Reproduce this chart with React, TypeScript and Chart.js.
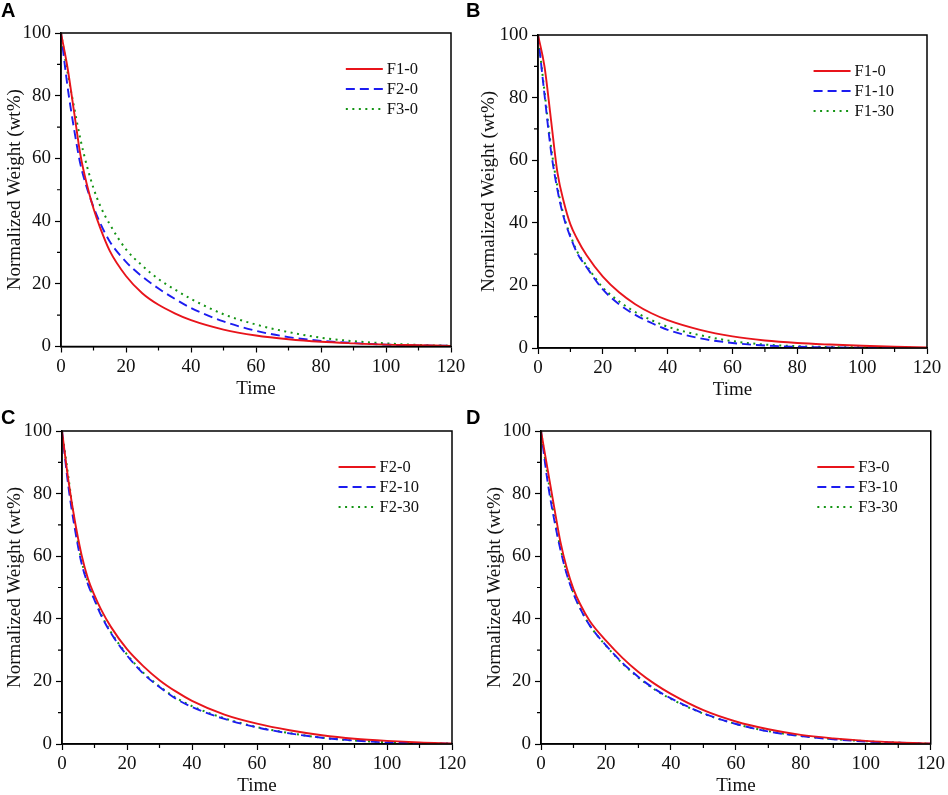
import React, { useEffect, useRef } from "react";
import Chart from "chart.js/auto";

// time values shared by every curve
const timePoints = [0, 2, 4, 6, 8, 10, 12, 15, 20, 25, 30, 35, 40, 50, 60, 70, 80, 90, 100, 110, 120];

const xTickValues = [0, 20, 40, 60, 80, 100, 120];
const yTickValues = [0, 20, 40, 60, 80, 100];

// panel A
const namesA = ["F1-0", "F2-0", "F3-0"];
const a_F1_0 = [100, 89, 75, 61, 51.5, 44, 38, 30.5, 22.5, 17, 13.3, 10.6, 8.4, 5.4, 3.5, 2.3, 1.5, 1.0, 0.6, 0.4, 0.2];
const a_F2_0 = [100, 83, 69.5, 58, 50.5, 44.5, 39.5, 33.5, 27, 22.3, 18.5, 15.2, 12.3, 8.0, 5.0, 3.0, 1.8, 1.1, 0.6, 0.35, 0.2];
const a_F3_0 = [100, 87.5, 76.5, 66, 57.5, 50.5, 45, 39, 31, 25.8, 21.5, 18.2, 15.2, 10.3, 7, 4.6, 2.8, 1.7, 1.0, 0.5, 0.2];

// panel B
const namesB = ["F1-0", "F1-10", "F1-30"];
const b_F1_0 = [100, 90, 73, 56, 46.5, 39.5, 35, 29.6, 22.8, 17.8, 14.0, 11.1, 8.9, 5.8, 3.7, 2.4, 1.6, 1.1, 0.7, 0.4, 0.2];
const b_F1_10 = [100, 81, 63, 50.5, 41.5, 35.5, 30.5, 25.8, 18.7, 14, 10.6, 8, 5.8, 3.1, 1.6, 0.8, 0.4, 0.2, 0.1, 0.05, 0];
const b_F1_30 = [100, 82, 64.5, 51.5, 42, 36, 31, 26.3, 19.3, 14.9, 11.5, 8.9, 6.8, 4.1, 2.2, 1.1, 0.6, 0.3, 0.2, 0.1, 0];

// panel C
const namesC = ["F2-0", "F2-10", "F2-30"];
const c_F2_0 = [100, 84, 71, 60.5, 52.8, 47.5, 43, 37.5, 30.3, 24.9, 20.4, 16.8, 13.8, 9.4, 6.5, 4.4, 2.8, 1.7, 1.0, 0.5, 0.2];
const c_F2_10 = [100, 82, 68.5, 57.8, 51, 46, 41.2, 35.5, 28.3, 22.5, 18.2, 14.5, 11.8, 8.0, 5.3, 3.4, 2.0, 1.1, 0.5, 0.25, 0.1];
const c_F2_30 = [100, 85, 70, 58.6, 51.5, 46.3, 41.5, 35.8, 28.6, 22.8, 18.4, 14.8, 12.1, 8.2, 5.4, 3.5, 2.0, 1.1, 0.6, 0.3, 0.1];

// panel D
const namesD = ["F3-0", "F3-10", "F3-30"];
const d_F3_0 = [100, 88, 76, 64.5, 56, 49.5, 44.8, 39.3, 33, 27.6, 23, 19.2, 16, 10.8, 7.2, 4.7, 2.9, 1.8, 1.0, 0.5, 0.2];
const d_F3_10 = [100, 84, 72, 62, 54, 48, 43.4, 37.9, 31.5, 26, 21.4, 17.6, 14.6, 9.8, 6.4, 4.0, 2.5, 1.5, 0.8, 0.4, 0.1];
const d_F3_30 = [100, 86, 73, 62.6, 54.5, 48.3, 43.5, 37.9, 31.4, 25.8, 21.2, 17.4, 14.4, 9.7, 6.4, 4.1, 2.6, 1.6, 0.9, 0.4, 0.1];

const lineStyles = [
  { color: "#e8141b", dash: [] as number[], width: 1.9 },
  { color: "#1c1cf0", dash: [9, 5], width: 1.9 },
  { color: "#149414", dash: [2, 4.5], width: 2 },
];

const serif = "Liberation Serif";

// box round the plot + short minor ticks halfway between the labelled ones
const framePlugin = {
  id: "frame",
  afterDraw(chart: any) {
    const { ctx, chartArea: a, scales } = chart;
    ctx.save();
    ctx.strokeStyle = "#000";
    ctx.lineWidth = 1.5;
    ctx.strokeRect(a.left, a.top, a.right - a.left, a.bottom - a.top);
    ctx.lineWidth = 1.2;
    ctx.beginPath();
    const xs = scales.x.ticks;
    for (let i = 1; i < xs.length; i++) {
      const px = scales.x.getPixelForValue((xs[i].value + xs[i - 1].value) / 2);
      ctx.moveTo(px, a.bottom);
      ctx.lineTo(px, a.bottom + 4);
    }
    const ys = scales.y.ticks;
    for (let i = 1; i < ys.length; i++) {
      const py = scales.y.getPixelForValue((ys[i].value + ys[i - 1].value) / 2);
      ctx.moveTo(a.left, py);
      ctx.lineTo(a.left - 4, py);
    }
    ctx.stroke();
    ctx.restore();
  },
};

// legend drawn inside the plot, top right
const insideLegend = {
  id: "insideLegend",
  afterDraw(chart: any) {
    const { ctx, chartArea: a } = chart;
    const sets = chart.data.datasets;
    ctx.save();
    ctx.font = `16.5px "${serif}"`;
    const textW = Math.max(...sets.map((d: any) => ctx.measureText(d.label).width));
    const textX = a.right - 33 - textW;
    const lineEnd = textX - 4;
    const lineStart = lineEnd - 37;
    sets.forEach((d: any, i: number) => {
      const yy = a.top + 36 + i * 20;
      ctx.strokeStyle = d.borderColor;
      ctx.lineWidth = d.borderWidth;
      ctx.setLineDash(d.borderDash || []);
      ctx.beginPath();
      ctx.moveTo(lineStart, yy);
      ctx.lineTo(lineEnd, yy);
      ctx.stroke();
      ctx.setLineDash([]);
      ctx.fillStyle = "#111";
      ctx.textBaseline = "middle";
      ctx.fillText(d.label, textX, yy + 1);
    });
    ctx.restore();
  },
};

interface PanelProps {
  letter: string;
  left: number;
  top: number;
  width: number;
  height: number;
  area: { left: number; right: number; top: number; bottom: number };
  padLeft: number;
  letterLeft: number;
  letterTop: number;
  names: string[];
  series: number[][];
}

const X_AXIS_H = 53.5;

const Panel: React.FC<PanelProps> = (p) => {
  const canvasRef = useRef<HTMLCanvasElement>(null);

  useEffect(() => {
    if (!canvasRef.current) return;
    const chart = new Chart(canvasRef.current, {
      type: "line",
      data: {
        datasets: p.names.map((name, i) => ({
          label: name,
          data: timePoints.map((t, j) => ({ x: t, y: p.series[i][j] })),
          borderColor: lineStyles[i].color,
          borderDash: lineStyles[i].dash,
          borderWidth: lineStyles[i].width,
          pointRadius: 0,
          cubicInterpolationMode: "monotone",
          fill: false,
        })),
      },
      options: {
        animation: false,
        responsive: false,
        maintainAspectRatio: false,
        layout: {
          padding: {
            left: p.padLeft,
            right: p.width - p.area.right,
            top: p.area.top,
            bottom: p.height - p.area.bottom - X_AXIS_H,
          },
        },
        plugins: { legend: { display: false }, tooltip: { enabled: false } },
        scales: {
          x: {
            type: "linear",
            min: 0,
            max: 120,
            afterBuildTicks: (scale: any) => {
              scale.ticks = xTickValues.map((value) => ({ value }));
            },
            afterFit: (scale: any) => {
              scale.height = X_AXIS_H;
            },
            grid: { drawOnChartArea: false, drawTicks: true, tickLength: 6, tickColor: "#000", tickWidth: 1.2 },
            border: { display: true, color: "#000", width: 1.5 },
            ticks: { font: { family: serif, size: 19 }, color: "#111", padding: 3, maxRotation: 0 },
            title: { display: true, text: "Time", font: { family: serif, size: 19 }, color: "#111", padding: 0 },
          },
          y: {
            type: "linear",
            min: 0,
            max: 100,
            afterBuildTicks: (scale: any) => {
              scale.ticks = yTickValues.map((value) => ({ value }));
            },
            afterFit: (scale: any) => {
              scale.width = p.area.left - p.padLeft;
            },
            grid: { drawOnChartArea: false, drawTicks: true, tickLength: 6, tickColor: "#000", tickWidth: 1.2 },
            border: { display: true, color: "#000", width: 1.5 },
            ticks: { font: { family: serif, size: 19 }, color: "#111", padding: 4 },
            title: {
              display: true,
              text: "Normalized Weight (wt%)",
              font: { family: serif, size: 19 },
              color: "#111",
              padding: { top: 4, bottom: 0 },
            },
          },
        },
      } as any,
      plugins: [framePlugin, insideLegend],
    });
    return () => chart.destroy();
  }, []);

  return (
    <>
      <canvas
        ref={canvasRef}
        width={p.width}
        height={p.height}
        style={{ position: "absolute", left: p.left, top: p.top, width: p.width, height: p.height }}
      />
      <div
        style={{
          position: "absolute",
          left: p.letterLeft,
          top: p.letterTop,
          fontFamily: '"Liberation Sans"',
          fontWeight: "bold",
          fontSize: 20,
          lineHeight: "20px",
          color: "#000",
        }}
      >
        {p.letter}
      </div>
    </>
  );
};

export default function App() {
  return (
    <div
      style={{
        position: "absolute",
        left: 0,
        top: 0,
        width: 948,
        height: 795,
        overflow: "hidden",
        background: "#fff",
      }}
    >
      <Panel
        letter="A"
        left={0}
        top={0}
        width={474}
        height={402}
        area={{ left: 61, right: 451, top: 33, bottom: 346.5 }}
        padLeft={0}
        letterLeft={1}
        letterTop={0}
        names={namesA}
        series={[a_F1_0, a_F2_0, a_F3_0]}
      />
      <Panel
        letter="B"
        left={474}
        top={0}
        width={474}
        height={402}
        area={{ left: 64, right: 453, top: 35, bottom: 348 }}
        padLeft={0}
        letterLeft={466}
        letterTop={0}
        names={namesB}
        series={[b_F1_0, b_F1_10, b_F1_30]}
      />
      <Panel
        letter="C"
        left={0}
        top={395}
        width={474}
        height={404}
        area={{ left: 62, right: 452, top: 36, bottom: 349 }}
        padLeft={0}
        letterLeft={1}
        letterTop={407}
        names={namesC}
        series={[c_F2_0, c_F2_10, c_F2_30]}
      />
      <Panel
        letter="D"
        left={474}
        top={395}
        width={474}
        height={404}
        area={{ left: 67, right: 457, top: 36, bottom: 349 }}
        padLeft={6}
        letterLeft={466}
        letterTop={407}
        names={namesD}
        series={[d_F3_0, d_F3_10, d_F3_30]}
      />
    </div>
  );
}
